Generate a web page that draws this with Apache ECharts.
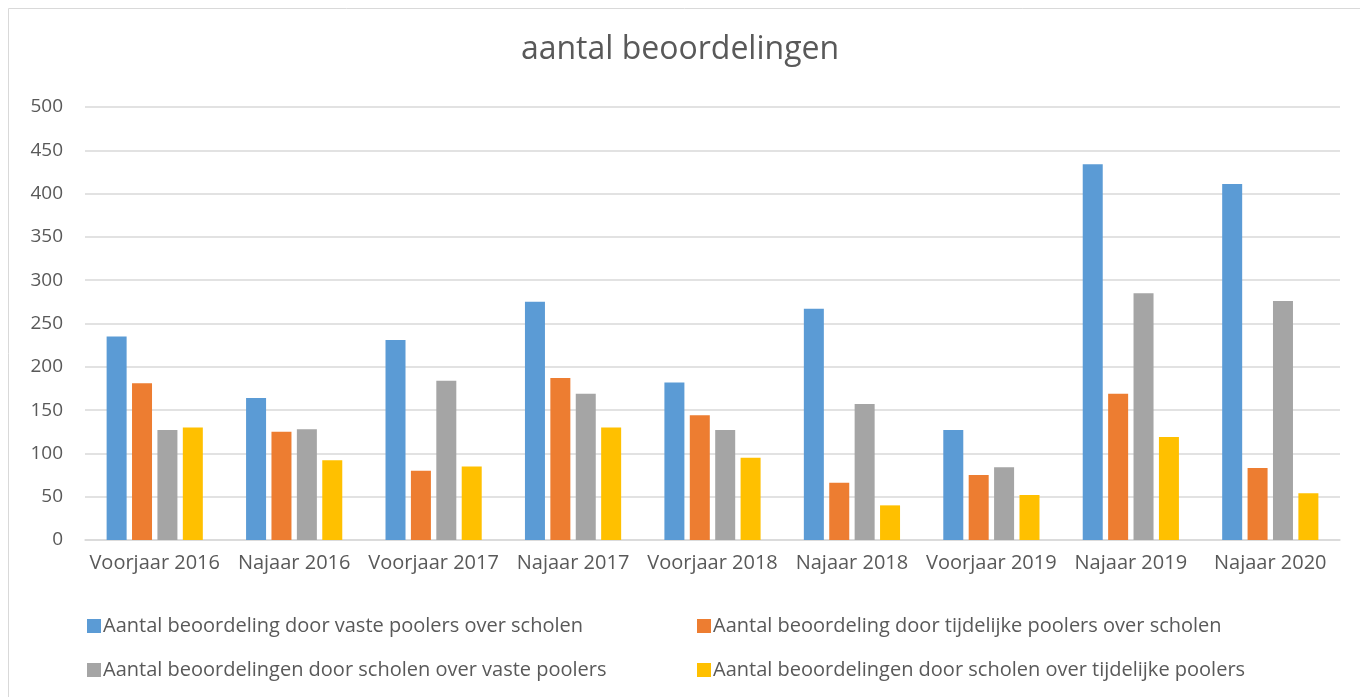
<!DOCTYPE html>
<html style="height: 100%">
<head>
    <meta charset="UTF-8">
    <title>aantal beoordelingen</title>
</head>
<body style="height: 100%; margin: 0; background: #fff">
<div id="container" style="width: 1360px; height: 697px"></div>
<script src="https://cdn.jsdelivr.net/npm/echarts@6/dist/echarts.min.js"></script>
<script>
    // data
    var periods = ['Voorjaar 2016', 'Najaar 2016', 'Voorjaar 2017', 'Najaar 2017', 'Voorjaar 2018',
        'Najaar 2018', 'Voorjaar 2019', 'Najaar 2019', 'Najaar 2020'];
    var seriesNames = [
        'Aantal beoordeling door vaste poolers over scholen',
        'Aantal beoordeling door tijdelijke poolers over scholen',
        'Aantal beoordelingen door scholen over vaste poolers',
        'Aantal beoordelingen door scholen over tijdelijke poolers'
    ];
    var vastOverScholen = [235, 164, 231, 275, 182, 267, 127, 434, 411];
    var tijdelijkOverScholen = [181, 125, 80, 187, 144, 66, 75, 169, 83];
    var scholenOverVast = [127, 128, 184, 169, 127, 157, 84, 285, 276];
    var scholenOverTijdelijk = [130, 92, 85, 130, 95, 40, 52, 119, 54];
    var yTicks = [0, 50, 100, 150, 200, 250, 300, 350, 400, 450, 500];

    var colors = ['#5B9BD5', '#ED7D31', '#A5A5A5', '#FFC000'];
    var values = [vastOverScholen, tijdelijkOverScholen, scholenOverVast, scholenOverTijdelijk];
    var txt = '#595959';
    var font = 'Open Sans';

    var series = [];
    for (var i = 0; i < values.length; i++) {
        series.push({
            name: seriesNames[i],
            type: 'bar',
            data: values[i],
            barWidth: 20,
            barGap: '27%',
            itemStyle: {color: colors[i]}
        });
    }

    // one legend per item so they sit in a 2x2 grid like the original
    var legendPos = [[82, 611], [692, 611], [82, 655], [692, 655]];
    var legends = [];
    for (var j = 0; j < seriesNames.length; j++) {
        legends.push({
            data: [seriesNames[j]],
            left: legendPos[j][0],
            top: legendPos[j][1],
            itemWidth: 14,
            itemHeight: 14,
            itemGap: 0,
            icon: 'rect',
            textStyle: {color: txt, fontSize: 20, fontFamily: font, padding: [0, 0, 0, -3]}
        });
    }

    var myChart = echarts.init(document.getElementById('container'));
    var option = {
        animation: false,
        title: {
            text: 'aantal beoordelingen',
            left: 'center',
            top: 29,
            textStyle: {color: txt, fontSize: 32, fontWeight: 'normal', fontFamily: font}
        },
        graphic: [{
            type: 'rect',
            shape: {x: 8.5, y: 8.5, width: 1400, height: 800},
            style: {fill: 'none', stroke: '#d9d9d9', lineWidth: 1}
        }],
        legend: legends,
        grid: {left: 85, right: 20, top: 107, bottom: 157},
        xAxis: {
            type: 'category',
            data: periods,
            axisTick: {show: false},
            axisLine: {lineStyle: {color: '#d9d9d9', width: 1.5}},
            axisLabel: {color: txt, fontSize: 20, fontFamily: font, margin: 13, interval: 0}
        },
        yAxis: {
            type: 'value',
            min: yTicks[0],
            max: yTicks[yTicks.length - 1],
            interval: 50,
            axisLine: {show: false},
            axisTick: {show: false},
            axisLabel: {color: txt, fontSize: 19, fontFamily: font, margin: 22},
            splitLine: {lineStyle: {color: '#d9d9d9', width: 1.5}}
        },
        series: series
    };
    myChart.setOption(option);
</script>
</body>
</html>
